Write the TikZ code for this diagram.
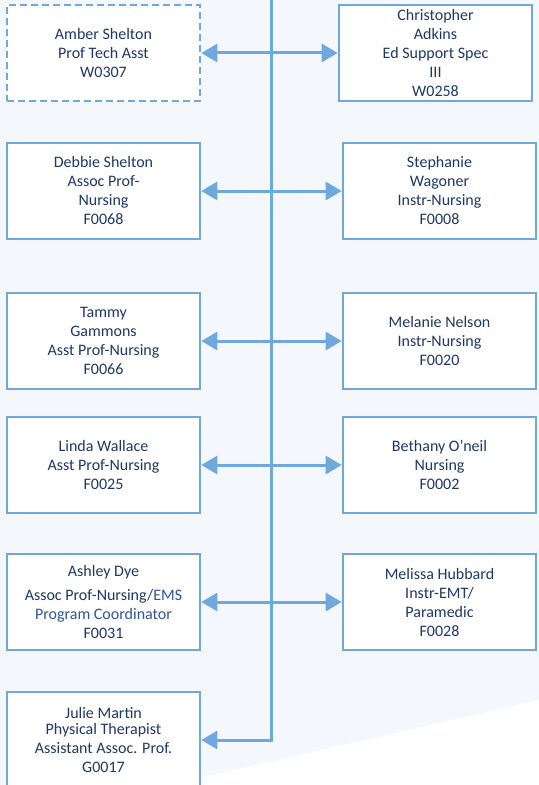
\documentclass[tikz,border=0pt]{standalone}
\usepackage{fontspec}
\setmainfont{Carlito}
\usetikzlibrary{arrows.meta}
\definecolor{bgblue}{HTML}{F4F8FC}
\definecolor{linec}{HTML}{6FA8DC}
\definecolor{txtc}{HTML}{1F3864}
\definecolor{progc}{HTML}{2F5597}
\tikzset{
  person/.style={draw=linec, line width=2.6bp, fill=white, rectangle,
    minimum width=193bp, minimum height=96bp, inner sep=0pt,
    align=center, text=txtc, font=\fontsize{16bp}{19bp}\selectfont},
  vacant/.style={person, dash pattern=on 7bp off 4bp},
  conn/.style={draw=linec, line width=3bp},
  tip/.style={-{Triangle[length=16bp,width=18bp]}},
  dtip/.style={{Triangle[length=16bp,width=18bp]}-{Triangle[length=16bp,width=18bp]}}
}
\begin{document}
\begin{tikzpicture}[x=1bp,y=-1bp]
\useasboundingbox (0,0) rectangle (539,785);
\fill[bgblue] (0,0) rectangle (539,785);
\fill[white] (160,787) -- (539,700) -- (539,790) -- (160,790) -- cycle;

% left column
\node[vacant] (amber) at (103.5,53) {Amber Shelton\\Prof Tech Asst\\W0307};
\node[person] (debbie) at (103.5,191) {Debbie Shelton\\Assoc Prof-\\Nursing\\F0068};
\node[person] (tammy) at (103.5,341) {Tammy\\Gammons\\Asst Prof-Nursing\\F0066};
\node[person] (linda) at (103.5,465) {Linda Wallace\\Asst Prof-Nursing\\F0025};
\node[person] (ashley) at (103.5,602) {Ashley Dye\\[5bp]Assoc Prof-Nursing/{\color{progc}EMS}\\{\color{progc}Program Coordinator}\\F0031};
\node[person] (julie) at (103.5,740) {Julie Martin\\[-3.5bp]Physical Therapist\\Assistant Assoc. Prof.\\G0017};

% right column
\node[person] (chris) at (435.5,53) {Christopher\\Adkins\\Ed Support Spec\\III\\W0258};
\node[person] (steph) at (439.5,191) {Stephanie\\Wagoner\\Instr-Nursing\\F0008};
\node[person] (melanie) at (439.5,341) {Melanie Nelson\\Instr-Nursing\\F0020};
\node[person] (bethany) at (439.5,465) {Bethany O’neil\\Nursing\\F0002};
\node[person] (melissa) at (439.5,602) {Melissa Hubbard\\Instr-EMT/\\Paramedic\\F0028};

% trunk
\coordinate (top) at (271,-5);
\draw[conn,tip] (top) |- (julie.east);

% cross connectors
\draw[conn,dtip] (amber.east) -- (chris.west);
\draw[conn,dtip] (debbie.east) -- (steph.west);
\draw[conn,dtip] (tammy.east) -- (melanie.west);
\draw[conn,dtip] (linda.east) -- (bethany.west);
\draw[conn,dtip] (ashley.east) -- (melissa.west);
\end{tikzpicture}
\end{document}
